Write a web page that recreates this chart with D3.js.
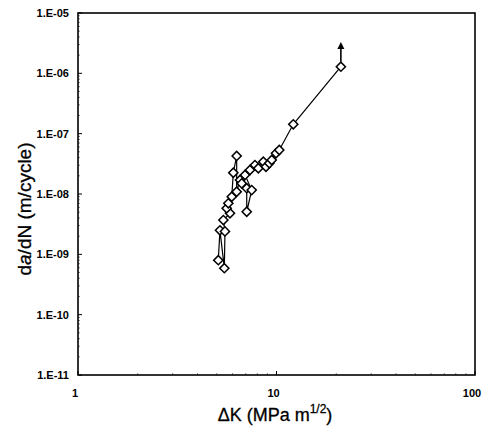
<!DOCTYPE html>
<html>
<head>
<meta charset="utf-8">
<script src="https://cdn.jsdelivr.net/npm/d3@7"></script>
<style>
body { margin: 0; background: #fff; }
svg { display: block; }
</style>
</head>
<body>
<svg id="chart" width="487" height="434"></svg>
<script>
// Data (ΔK in MPa m^1/2, da/dN in m/cycle)
const deltaK = [5.09, 5.19, 5.46, 5.50, 5.40, 5.83, 5.61, 5.72, 5.95, 6.06, 6.30, 6.30, 6.55, 6.68, 7.08, 7.08, 7.50, 6.94, 7.35, 7.79, 8.10, 8.58, 8.85, 9.20, 9.46, 9.94, 10.33, 12.15, 21.1];
const dadN   = [8.0e-10, 2.5e-9, 5.9e-10, 2.4e-9, 3.7e-9, 4.8e-9, 5.8e-9, 7.0e-9, 9.0e-9, 2.25e-8, 4.27e-8, 1.09e-8, 1.71e-8, 1.50e-8, 1.25e-8, 5.08e-9, 1.16e-8, 2.07e-8, 2.50e-8, 3.02e-8, 2.67e-8, 3.43e-8, 2.83e-8, 3.23e-8, 3.66e-8, 4.73e-8, 5.36e-8, 1.43e-7, 1.29e-6];
const arrowTipY = 3.3e-6; // arrow continues above last point
const xTickValues = [1, 10, 100];
const xTickLabels = ["1", "10", "100"];
const yTickValues = [1e-11, 1e-10, 1e-9, 1e-8, 1e-7, 1e-6, 1e-5];
const yTickLabels = ["1.E-11", "1.E-10", "1.E-09", "1.E-08", "1.E-07", "1.E-06", "1.E-05"];

const svg = d3.select("#chart");
const L = 78, R = 475, T = 13, B = 375;

const x = d3.scaleLog().domain([1, 100]).range([L, R]);
const y = d3.scaleLog().domain([1e-11, 1e-5]).range([B, T]);

const font = "'Liberation Sans', Arial, Helvetica, sans-serif";

// minor ticks (inward)
const xMinor = [];
for (let d = 1; d < 100; d *= 10) for (let k = 2; k <= 9; k++) xMinor.push(d * k);
const yMinor = [];
for (let e = -11; e < -5; e++) for (let k = 2; k <= 9; k++) yMinor.push(k * Math.pow(10, e));

const g = svg.append("g");
g.selectAll("line.xminor").data(xMinor).enter().append("line")
  .attr("x1", d => x(d)).attr("x2", d => x(d))
  .attr("y1", B).attr("y2", B - 2).attr("stroke", "#666").attr("stroke-width", 0.8);
g.selectAll("line.yminor").data(yMinor).enter().append("line")
  .attr("y1", d => y(d)).attr("y2", d => y(d))
  .attr("x1", L).attr("x2", L + 2).attr("stroke", "#666").attr("stroke-width", 0.8);
g.selectAll("line.xmaj").data(xTickValues).enter().append("line")
  .attr("x1", d => x(d)).attr("x2", d => x(d))
  .attr("y1", B).attr("y2", B - 4).attr("stroke", "#000").attr("stroke-width", 1);
g.selectAll("line.ymaj").data(yTickValues).enter().append("line")
  .attr("y1", d => y(d)).attr("y2", d => y(d))
  .attr("x1", L).attr("x2", L + 4).attr("stroke", "#000").attr("stroke-width", 1);

// frame
svg.append("rect").attr("x", L).attr("y", T).attr("width", R - L).attr("height", B - T)
  .attr("fill", "none").attr("stroke", "#000").attr("stroke-width", 1.6);

// tick labels
svg.selectAll("text.ylab").data(yTickValues).enter().append("text")
  .attr("x", L - 9).attr("y", d => y(d)).attr("dy", "0.35em")
  .attr("text-anchor", "end").attr("font-family", font).attr("font-weight", "bold")
  .attr("font-size", 11).text((d, i) => yTickLabels[i]);
svg.selectAll("text.xlab").data(xTickValues).enter().append("text")
  .attr("x", d => x(d) - 3).attr("y", 397)
  .attr("text-anchor", "middle").attr("font-family", font).attr("font-weight", "bold")
  .attr("font-size", 11).text((d, i) => xTickLabels[i]);

// data line
const pts = deltaK.map((k, i) => [k, dadN[i]]);
svg.append("path").datum(pts)
  .attr("d", d3.line().x(d => x(d[0])).y(d => y(d[1])))
  .attr("fill", "none").attr("stroke", "#000").attr("stroke-width", 1.2);

// arrow from last point
const last = pts[pts.length - 1];
const ax = x(last[0]), ay = y(arrowTipY);
svg.append("line")
  .attr("x1", ax).attr("y1", y(last[1]) - 5)
  .attr("x2", ax).attr("y2", ay + 4)
  .attr("stroke", "#000").attr("stroke-width", 1.6);
svg.append("path")
  .attr("d", `M${ax},${ay} L${ax - 3.5},${ay + 7} L${ax + 3.5},${ay + 7} Z`)
  .attr("fill", "#000");

// diamond markers
svg.selectAll("path.pt").data(pts).enter().append("path")
  .attr("d", d3.symbol().type(d3.symbolSquare).size(42))
  .attr("transform", d => `translate(${x(d[0])},${y(d[1])}) rotate(45)`)
  .attr("fill", "#fff").attr("stroke", "#000").attr("stroke-width", 1.5);

// axis titles
const xt = svg.append("text").attr("x", 275).attr("y", 421)
  .attr("text-anchor", "middle").attr("font-family", font).attr("font-size", 18)
  .attr("stroke", "#000").attr("stroke-width", 0.3);
xt.append("tspan").text("\u0394K (MPa m");
xt.append("tspan").attr("font-size", 12).attr("dy", -8).text("1/2");
xt.append("tspan").attr("dy", 8).text(")");

const yt = svg.append("text")
  .attr("transform", "translate(31,209) rotate(-90)")
  .attr("text-anchor", "middle").attr("font-family", font).attr("font-size", 19)
  .attr("stroke", "#000").attr("stroke-width", 0.3);
yt.append("tspan").text("d");
yt.append("tspan").attr("font-style", "italic").text("a");
yt.append("tspan").text("/dN (m/cycle)");
</script>
</body>
</html>
